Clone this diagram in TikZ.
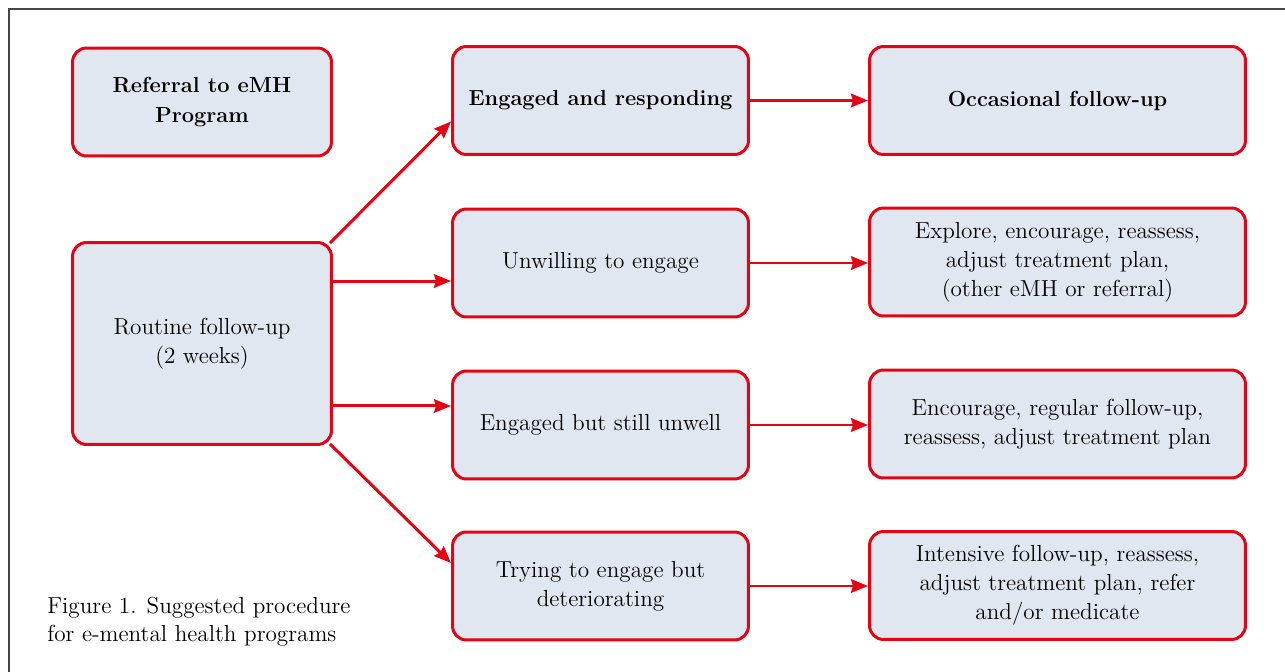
\documentclass[tikz,border=0pt]{standalone}
\usepackage{xcolor}
\usepackage{tikz}
\usetikzlibrary{arrows.meta,positioning,calc}

\definecolor{emhred}{RGB}{228,4,20}
\definecolor{emhfill}{RGB}{225,231,240}
\definecolor{framegray}{RGB}{70,70,70}

\begin{document}
\begin{tikzpicture}[x=0.02cm, y=-0.02cm,
    box/.style={draw=emhred, fill=emhfill, line width=1.7pt, rounded corners=0.28cm,
        align=center, inner sep=0pt, font=\fontsize{13.2}{16.5}\selectfont},
    boldbox/.style={font=\fontsize{12.4}{17}\selectfont\bfseries},
    midbox/.style={box, minimum width=5.92cm, minimum height=2.16cm},
    endbox/.style={box, minimum width=7.52cm, minimum height=2.16cm},
    arr/.style={emhred, line width=1.7pt, -{Stealth[length=0.34cm, width=0.27cm, inset=0.04cm]}}]

    % Page size and outer frame
    \useasboundingbox (0,0) rectangle (1285,672);
    \draw[framegray, line width=0.8pt] (9,672) -- (9,9) -- (1285,9);

    % Left column
    \node[box, boldbox, minimum width=5.18cm, minimum height=2.16cm] (ref) at (202,102) {Referral to eMH\\Program};
    \node[box, minimum width=5.18cm, minimum height=4.04cm] (rout) at (202,343.5) {Routine follow-up\\(2 weeks)};

    % Middle column
    \node[midbox, boldbox] (eng) at (600.5,100.5) {Engaged and responding};
    \node[midbox] (unw) at (600.5,263) {Unwilling to engage};
    \node[midbox] (still) at (600.5,425) {Engaged but still unwell};
    \node[midbox] (try) at (600.5,586) {Trying to engage but\\deteriorating};

    % Right column
    \node[endbox, boldbox] (occ) at (1057.5,100.5) {Occasional follow-up};
    \node[endbox] (expl) at (1057.5,262) {Explore, encourage, reassess,\\adjust treatment plan,\\(other eMH or referral)};
    \node[endbox] (enc) at (1057.5,424) {Encourage, regular follow-up,\\reassess, adjust treatment plan};
    \node[endbox] (int) at (1057.5,585.5) {Intensive follow-up, reassess,\\adjust treatment plan, refer\\and/or medicate};

    % Caption
    \node[anchor=west, align=left, inner sep=0pt, font=\fontsize{13.2}{16}\selectfont] (cap) at (47,622) {Figure 1. Suggested procedure\\for e-mental health programs};

    % Arrows out of routine follow-up
    \coordinate (r1) at ([yshift=1.25cm]rout.east);
    \coordinate (r2) at ([yshift=-1.25cm]rout.east);
    \draw[arr] ([xshift=-0.06cm,yshift=-0.04cm]rout.north east) -- ([yshift=-0.42cm]eng.west);
    \draw[arr] (r1) -- (r1 -| unw.west);
    \draw[arr] (r2) -- (r2 -| still.west);
    \draw[arr] ([xshift=-0.06cm,yshift=0.04cm]rout.south east) -- ([yshift=0.46cm]try.west);

    % Arrows to the actions
    \draw[arr] (eng.east) -- (eng.east -| occ.west);
    \draw[arr] (unw.east) -- (unw.east -| expl.west);
    \draw[arr] (still.east) -- (still.east -| enc.west);
    \draw[arr] (try.east) -- (try.east -| int.west);
\end{tikzpicture}
\end{document}
